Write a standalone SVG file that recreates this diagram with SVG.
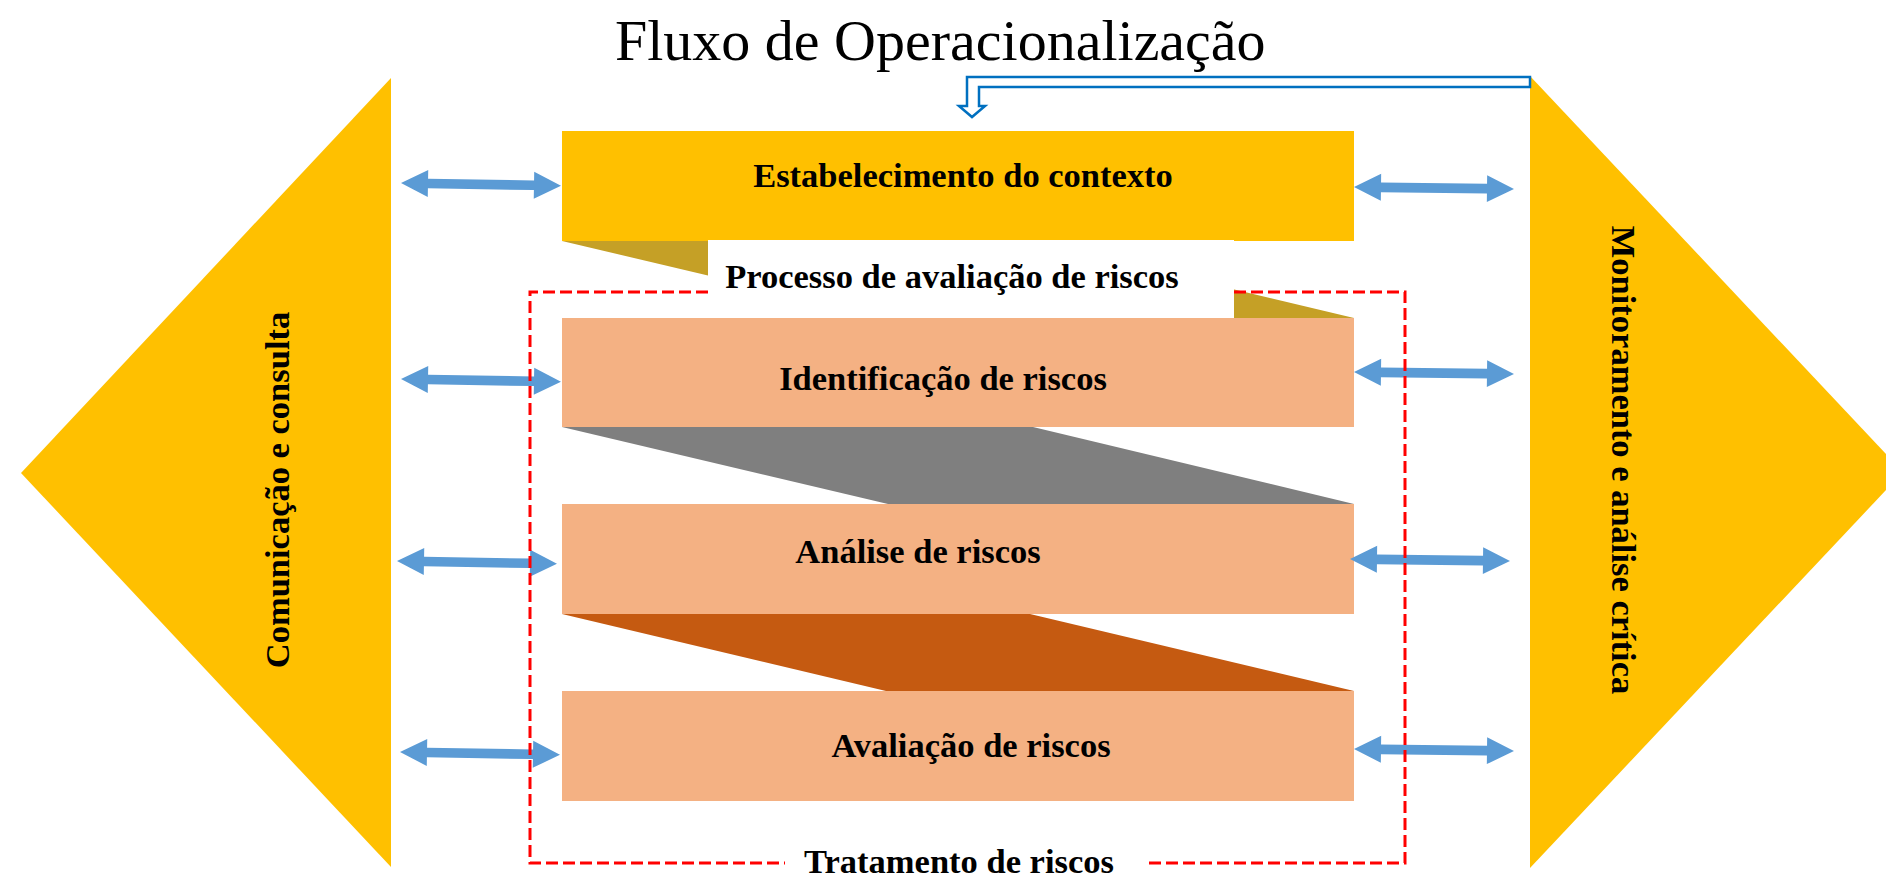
<svg xmlns="http://www.w3.org/2000/svg" width="1886" height="878" viewBox="0 0 1886 878">
  <defs>
    <style>
      .lbl { font-family: "Liberation Serif", "Times New Roman", serif; font-weight: bold; font-size: 34.5px; fill: #000; }
      .title { font-family: "Liberation Serif", "Times New Roman", serif; font-size: 58px; fill: #000; }
      .yellow { fill: #FFC000; }
      .salmon { fill: #F4B183; }
      .darr { fill: #5B9BD5; }
    </style>
    <path id="dbl" d="M0,0 L27,-13.5 L27,-4.8 L133,-4.8 L133,-13.5 L160,0 L133,13.5 L133,4.8 L27,4.8 L27,13.5 Z"/>
  </defs>
  <rect width="1886" height="878" fill="#fff"/>

  <text class="title" x="615" y="60">Fluxo de Operacionalização</text>

  <g id="comunicacao">
    <polygon class="yellow" points="391,78 21,473 391,867"/>
    <text class="lbl" transform="translate(289,490) rotate(-90)" text-anchor="middle">Comunicação e consulta</text>
  </g>

  <g id="monitoramento">
    <polygon class="yellow" points="1530,76 1903,472 1530,868"/>
    <text class="lbl" transform="translate(1612,460) rotate(90)" text-anchor="middle">Monitoramento e análise crítica</text>
  </g>

  <g id="folds">
    <polygon fill="#C5A026" points="562,241 1031,241 1354,318 888,318"/>
    <polygon fill="#7F7F7F" points="562,427 1033,427 1354,504 888,504"/>
    <polygon fill="#C55A11" points="562,614 1030,614 1354,691 886,691"/>
  </g>

  <g id="contexto">
    <rect class="yellow" x="562" y="131" width="792" height="110"/>
    <text class="lbl" x="963" y="187" text-anchor="middle">Estabelecimento do contexto</text>
  </g>

  <g id="processo">
    <rect fill="#fff" x="708" y="240" width="526" height="78"/>
    <text class="lbl" x="952" y="288" text-anchor="middle">Processo de avaliação de riscos</text>
  </g>

  <g id="identificacao">
    <rect class="salmon" x="562" y="318" width="792" height="109"/>
    <text class="lbl" x="943" y="390" text-anchor="middle">Identificação de riscos</text>
  </g>

  <g id="analise">
    <rect class="salmon" x="562" y="504" width="792" height="110"/>
    <text class="lbl" x="918" y="563" text-anchor="middle">Análise de riscos</text>
  </g>

  <g id="avaliacao">
    <rect class="salmon" x="562" y="691" width="792" height="110"/>
    <text class="lbl" x="971" y="757" text-anchor="middle">Avaliação de riscos</text>
  </g>

  <g id="connectors">
    <use href="#dbl" class="darr" transform="translate(401,183) rotate(1)"/>
    <use href="#dbl" class="darr" transform="translate(401,379) rotate(1)"/>
    <use href="#dbl" class="darr" transform="translate(397,561) rotate(1)"/>
    <use href="#dbl" class="darr" transform="translate(400,752) rotate(1)"/>
    <use href="#dbl" class="darr" transform="translate(1354,187) rotate(0.7)"/>
    <use href="#dbl" class="darr" transform="translate(1354,372) rotate(0.7)"/>
    <use href="#dbl" class="darr" transform="translate(1350,559) rotate(0.7)"/>
    <use href="#dbl" class="darr" transform="translate(1354,749) rotate(0.7)"/>
    <path d="M1530,77 H967 V106 H959 L972,117 L985,106 H979 V87 H1530 Z" fill="#fff" stroke="#0070C0" stroke-width="2.5" stroke-linejoin="miter"/>
  </g>

  <g id="tratamento">
    <path d="M708,292 H530 V863 H785 M1149,863 H1405 V292 H1234" fill="none" stroke="#FF0000" stroke-width="3" stroke-dasharray="12 5"/>
    <text class="lbl" x="959" y="873" text-anchor="middle">Tratamento de riscos</text>
  </g>
</svg>
